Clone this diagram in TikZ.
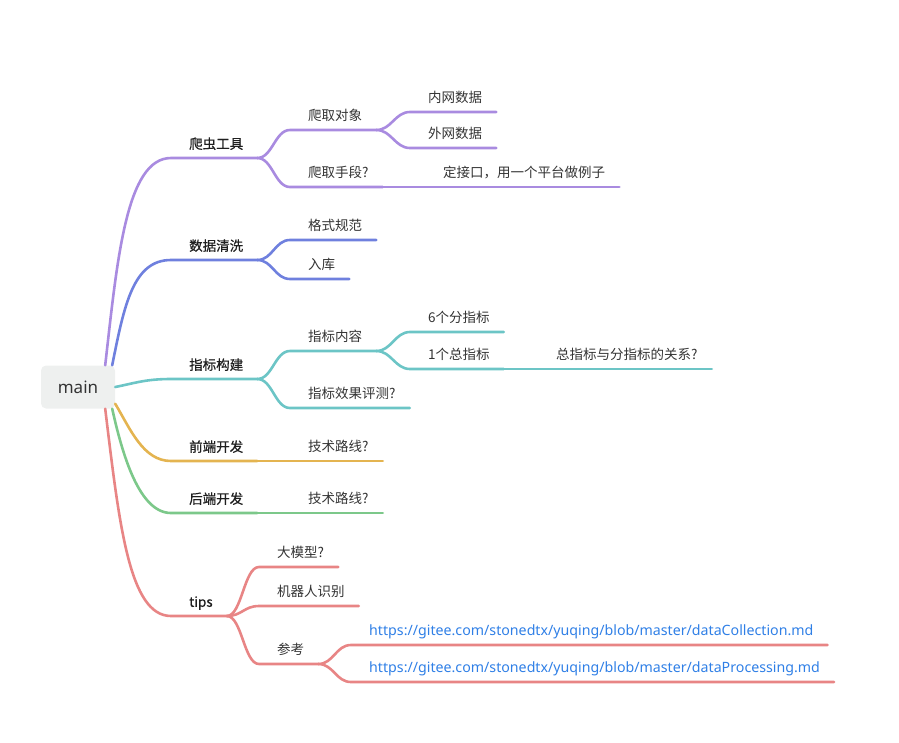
\documentclass[tikz,border=0pt]{standalone}
\usepackage{fontspec}
\setmainfont{Noto Sans CJK SC}
\newfontfamily\headfont[FakeBold=0.6]{Noto Sans CJK SC}
\newfontfamily\latinfont{Noto Sans}
\usetikzlibrary{positioning}
\definecolor{crawl}{HTML}{A98BE0}
\definecolor{clean}{HTML}{6F80DE}
\definecolor{index}{HTML}{6CC5C6}
\definecolor{front}{HTML}{E4B450}
\definecolor{back}{HTML}{7CC88A}
\definecolor{tip}{HTML}{E88585}
\definecolor{ink}{HTML}{333333}
\definecolor{inkdark}{HTML}{1F1F1F}
\definecolor{linkblue}{HTML}{2F7FE6}
\definecolor{rootfill}{HTML}{EEF0EF}
\tikzset{
  root/.style={rectangle, rounded corners=5pt, fill=rootfill, text=ink,
    minimum width=74pt, minimum height=43pt, font=\latinfont\fontsize{17}{20}\selectfont},
  topic/.style={inner xsep=0pt, inner ysep=6pt, text height=10pt, text depth=3pt,
    text=ink, font=\fontsize{13.5}{16}\selectfont},
  head/.style={topic, text=inkdark, font=\headfont\fontsize{13.5}{16}\selectfont},
  link/.style={topic, text=linkblue, font=\latinfont\fontsize{14.2}{16}\selectfont},
  limb/.style={line width=2.6pt, draw=#1, line cap=round}
}
\begin{document}
\begin{tikzpicture}[x=1pt, y=-1pt]
\useasboundingbox (0,0) rectangle (899,742);

%--- Root ---
\node[root] (main) at (78,387) {main};

%--- First level ---
\node[head, anchor=south west] (craw)  at (189,158) {爬虫工具};
\node[head, anchor=south west] (clean) at (189,260) {数据清洗};
\node[head, anchor=south west] (build) at (189,379) {指标构建};
\node[head, anchor=south west] (fend)  at (189,461) {前端开发};
\node[head, anchor=south west] (bend)  at (189,513) {后端开发};
\node[head, anchor=south west] (tips)  at (189,616) {tips};

%--- Second level ---
\node[topic, anchor=south west] (target)  at (308,130) {爬取对象};
\node[topic, anchor=south west] (means)   at (308,187) {爬取手段?};
\node[topic, anchor=south west] (format)  at (308,240) {格式规范};
\node[topic, anchor=south west] (store)   at (308,279) {入库};
\node[topic, anchor=south west] (content) at (308,351) {指标内容};
\node[topic, anchor=south west] (judge)   at (308,408) {指标效果评测?};
\node[topic, anchor=south west] (froute)  at (308,461) {技术路线?};
\node[topic, anchor=south west] (broute)  at (308,513) {技术路线?};
\node[topic, anchor=south west] (llm)     at (277,567) {大模型?};
\node[topic, anchor=south west] (robot)   at (277,606) {机器人识别};
\node[topic, anchor=south west] (refs)    at (277,664) {参考};

%--- Third level ---
\node[topic, anchor=south west] (inner) at (428,112) {内网数据};
\node[topic, anchor=south west] (outer) at (428,148) {外网数据};
\node[topic, anchor=south west] (api)   at (443,187) {定接口，用一个平台做例子};
\node[topic, anchor=south west] (six)   at (428,332) {6个分指标};
\node[topic, anchor=south west] (one)   at (428,369) {1个总指标};
\node[topic, anchor=south west] (rel)   at (556,369) {总指标与分指标的关系?};
\node[link,  anchor=south west] (linka) at (369,645) {https://gitee.com/stonedtx/yuqing/blob/master/dataCollection.md};
\node[link,  anchor=south west] (linkb) at (369,682) {https://gitee.com/stonedtx/yuqing/blob/master/dataProcessing.md};

%--- Trunks from root ---
\draw[limb=crawl] ([xshift=-10pt]main.north east) .. controls +(12,-105) and +(-45,0) .. ([xshift=-18pt]craw.south west) -- ([xshift=14pt]craw.south east);
\draw[limb=clean] ([xshift=-3pt]main.north east) .. controls +(12,-60) and +(-38,0) .. ([xshift=-18pt]clean.south west) -- ([xshift=14pt]clean.south east);
\draw[limb=index] (main.east) .. controls +(20,-4) and +(-25,0) .. ([xshift=-18pt]build.south west) -- ([xshift=14pt]build.south east);
\draw[limb=front] ([yshift=5pt]main.south east) .. controls +(15,25) and +(-28,0) .. ([xshift=-18pt]fend.south west) -- ([xshift=14pt]fend.south east);
\draw[limb=back]  ([xshift=-3pt]main.south east) .. controls +(10,45) and +(-32,0) .. ([xshift=-18pt]bend.south west) -- ([xshift=14pt]bend.south east);
\draw[limb=tip]   ([xshift=-10pt]main.south east) .. controls +(14,115) and +(-42,0) .. ([xshift=-18pt]tips.south west) -- ([xshift=14pt]tips.south east);

%--- Branches ---
\foreach \from/\to/\hue in {craw/target/crawl, craw/means/crawl, target/inner/crawl,
    target/outer/crawl, means/api/crawl, clean/format/clean, clean/store/clean,
    build/content/index, build/judge/index, content/six/index, content/one/index,
    one/rel/index, fend/froute/front, bend/broute/back, tips/llm/tip, tips/robot/tip,
    tips/refs/tip, refs/linka/tip, refs/linkb/tip} {
  \draw[limb=\hue] ([xshift=14pt]\from.south east) .. controls +(15,0) and +(-15,0)
    .. ([xshift=-18pt]\to.south west) -- ([xshift=14pt]\to.south east);
}

\end{tikzpicture}
\end{document}
